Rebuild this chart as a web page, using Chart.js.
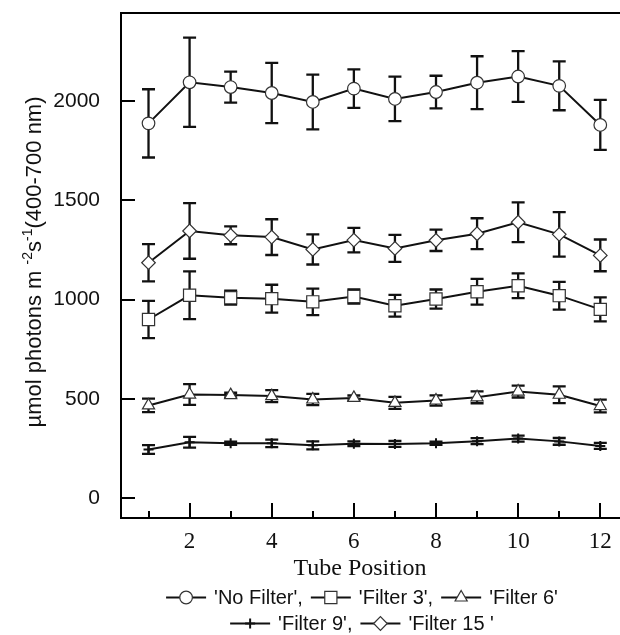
<!DOCTYPE html>
<html><head><meta charset="utf-8">
<script src="https://cdn.jsdelivr.net/npm/chart.js@4/dist/chart.umd.min.js"></script>
<style>html,body{margin:0;padding:0;background:#fff;overflow:hidden}</style>
</head><body>
<canvas id="c" width="620" height="635"></canvas>
<script>
// ---- data ----
const tubePositions = [1,2,3,4,5,6,7,8,9,10,11,12];
const noFilter    = [1888, 2095, 2071, 2041, 1996, 2063, 2011, 2046, 2093, 2124, 2077, 1880];
const noFilterErr = [172, 225, 78, 152, 138, 97, 112, 82, 133, 128, 123, 126];
const filter3     = [900, 1022, 1010, 1005, 989, 1016, 969, 1003, 1040, 1070, 1020, 951];
const filter3Err  = [94, 120, 35, 70, 67, 36, 55, 48, 65, 62, 70, 60];
const filter6     = [467, 522, 519, 514, 497, 505, 480, 492, 508, 537, 521, 464];
const filter6Err  = [34, 52, 12, 30, 28, 12, 30, 26, 30, 30, 42, 32];
const filter9     = [245, 282, 276, 276, 266, 274, 273, 276, 287, 300, 286, 263];
const filter9Err  = [22, 27, 8, 19, 20, 12, 15, 8, 15, 15, 17, 15];
const filter15    = [1186, 1346, 1324, 1315, 1253, 1300, 1258, 1299, 1332, 1390, 1329, 1223];
const filter15Err = [94, 140, 45, 90, 76, 62, 68, 54, 78, 100, 112, 80];
const seriesNames = ["'No Filter',", "'Filter 3',", "'Filter 6'", "'Filter 9',", "'Filter 15 '"];
const xTickLabels = [2, 4, 6, 8, 10, 12];
const yTickLabels = [0, 500, 1000, 1500, 2000];
const xTitle = 'Tube Position';

const pts = arr => arr.map((v, i) => ({x: tubePositions[i], y: v}));
const mk = (label, vals, errs, style, r, bw) => ({
  label, data: pts(vals), errors: errs,
  borderColor: '#111', borderWidth: 2, tension: 0,
  pointStyle: style, pointRadius: r, pointHoverRadius: r,
  pointBackgroundColor: '#fff', pointBorderColor: style === 'cross' ? '#111' : '#333',
  pointBorderWidth: bw
});
const datasets = [
  mk(seriesNames[0], noFilter, noFilterErr, 'circle', 6.3, 1.2),
  mk(seriesNames[1], filter3, filter3Err, 'rect', 8.6, 1.2),
  mk(seriesNames[2], filter6, filter6Err, 'triangle', 7, 1.2),
  mk(seriesNames[3], filter9, filter9Err, 'cross', 5, 2),
  mk(seriesNames[4], filter15, filter15Err, 'rectRot', 6.8, 1.2)
];

const errorBars = {
  id: 'errorBars',
  beforeDatasetsDraw(chart) {
    const {ctx, scales: {x, y}} = chart;
    ctx.save();
    ctx.strokeStyle = '#111';
    ctx.lineWidth = 2.3;
    chart.data.datasets.forEach(ds => {
      ds.data.forEach((p, i) => {
        const e = ds.errors[i];
        const px = x.getPixelForValue(p.x);
        const top = y.getPixelForValue(p.y + e);
        const bot = y.getPixelForValue(p.y - e);
        ctx.beginPath();
        ctx.moveTo(px, top); ctx.lineTo(px, bot);
        ctx.moveTo(px - 6.5, top); ctx.lineTo(px + 6.5, top);
        ctx.moveTo(px - 6.5, bot); ctx.lineTo(px + 6.5, bot);
        ctx.stroke();
      });
    });
    ctx.restore();
  }
};

function drawMarker(ctx, ds, cx, cy) {
  ctx.save();
  ctx.strokeStyle = '#111'; ctx.lineWidth = 2;
  ctx.beginPath(); ctx.moveTo(cx - 20, cy); ctx.lineTo(cx + 20, cy); ctx.stroke();
  ctx.fillStyle = '#fff';
  ctx.strokeStyle = ds.pointBorderColor;
  ctx.lineWidth = ds.pointBorderWidth;
  Chart.helpers.drawPoint(ctx, {pointStyle: ds.pointStyle, radius: ds.pointRadius, rotation: 0, borderWidth: ds.pointBorderWidth}, cx, cy);
  ctx.restore();
}

const decorations = {
  id: 'decorations',
  afterDraw(chart) {
    const {ctx, chartArea: a, scales: {x, y}} = chart;
    ctx.save();
    ctx.strokeStyle = '#000';
    ctx.lineWidth = 2;
    // top frame line
    ctx.beginPath(); ctx.moveTo(a.left - 1, a.top); ctx.lineTo(a.right + 2, a.top); ctx.stroke();
    // inward ticks
    ctx.beginPath();
    yTickLabels.forEach(v => { const py = Math.round(y.getPixelForValue(v)); ctx.moveTo(a.left, py); ctx.lineTo(a.left + 14, py); });
    tubePositions.forEach(v => { const px = Math.round(x.getPixelForValue(v)); ctx.moveTo(px, a.bottom); ctx.lineTo(px, a.bottom - (v % 2 === 0 ? 15 : 7)); });
    ctx.stroke();

    // x title
    ctx.fillStyle = '#111';
    ctx.font = '24px "Liberation Serif", "Times New Roman", serif';
    ctx.textAlign = 'center'; ctx.textBaseline = 'alphabetic';
    ctx.fillText(xTitle, 360, 575);

    // y title with superscripts
    const base = '22px "Liberation Sans", Arial, sans-serif';
    const sup = '14px "Liberation Sans", Arial, sans-serif';
    const segs = [['\u00b5mol photons m ', base, 0], ['-2', sup, -9], ['s', base, 0], ['-1', sup, -9], ['(400-700 nm)', base, 0]];
    let total = 0;
    segs.forEach(s => { ctx.font = s[1]; total += ctx.measureText(s[0]).width; });
    ctx.translate(41, 262);
    ctx.rotate(-Math.PI / 2);
    ctx.textAlign = 'left';
    let cx = -total / 2;
    segs.forEach(s => { ctx.font = s[1]; ctx.fillText(s[0], cx, s[2]); cx += ctx.measureText(s[0]).width; });
    ctx.setTransform(1, 0, 0, 1, 0, 0);

    // legend
    const rows = [[0, 1, 2], [3, 4]];
    const rowY = [604, 630];
    ctx.font = '20px "Liberation Sans", Arial, sans-serif';
    ctx.textAlign = 'left';
    rows.forEach((row, ri) => {
      let w = 0;
      row.forEach((di, k) => { w += 40 + 8 + ctx.measureText(chart.data.datasets[di].label).width + (k < row.length - 1 ? 8 : 0); });
      let px = 362 - w / 2;
      row.forEach(di => {
        const ds = chart.data.datasets[di];
        drawMarker(ctx, ds, px + 20, rowY[ri] - 6.5);
        px += 48;
        ctx.fillStyle = '#111';
        ctx.font = '20px "Liberation Sans", Arial, sans-serif';
        ctx.fillText(ds.label, px, rowY[ri]);
        px += ctx.measureText(ds.label).width + 8;
      });
    });
    ctx.restore();
  }
};

new Chart(document.getElementById('c'), {
  type: 'line',
  data: {datasets},
  options: {
    responsive: false,
    devicePixelRatio: 1,
    animation: false,
    layout: {autoPadding: false, padding: {top: 13, left: 0, right: 0, bottom: 0}},
    plugins: {legend: {display: false}, tooltip: {enabled: false}},
    scales: {
      x: {
        type: 'linear', min: 0.33, max: 12.48,
        afterFit: s => { s.height = 117; s.paddingLeft = 0; s.paddingRight = 0; },
        afterBuildTicks: s => { s.ticks = xTickLabels.map(v => ({value: v})); },
        grid: {display: false},
        border: {display: true, color: '#000', width: 2},
        ticks: {color: '#111', padding: 2, maxRotation: 0, autoSkip: false,
          callback: v => String(v),
          font: {family: '"Liberation Serif", "Times New Roman", serif', size: 23}}
      },
      y: {
        type: 'linear', min: -100, max: 2444,
        afterFit: s => { s.width = 121; s.paddingTop = 0; s.paddingBottom = 0; },
        afterBuildTicks: s => { s.ticks = yTickLabels.map(v => ({value: v})); },
        grid: {display: false},
        border: {display: true, color: '#000', width: 2},
        ticks: {color: '#111', padding: 13,
          callback: v => String(v),
          font: {family: '"Liberation Sans", Arial, sans-serif', size: 21}}
      }
    }
  },
  plugins: [errorBars, decorations]
});
</script>
</body></html>
